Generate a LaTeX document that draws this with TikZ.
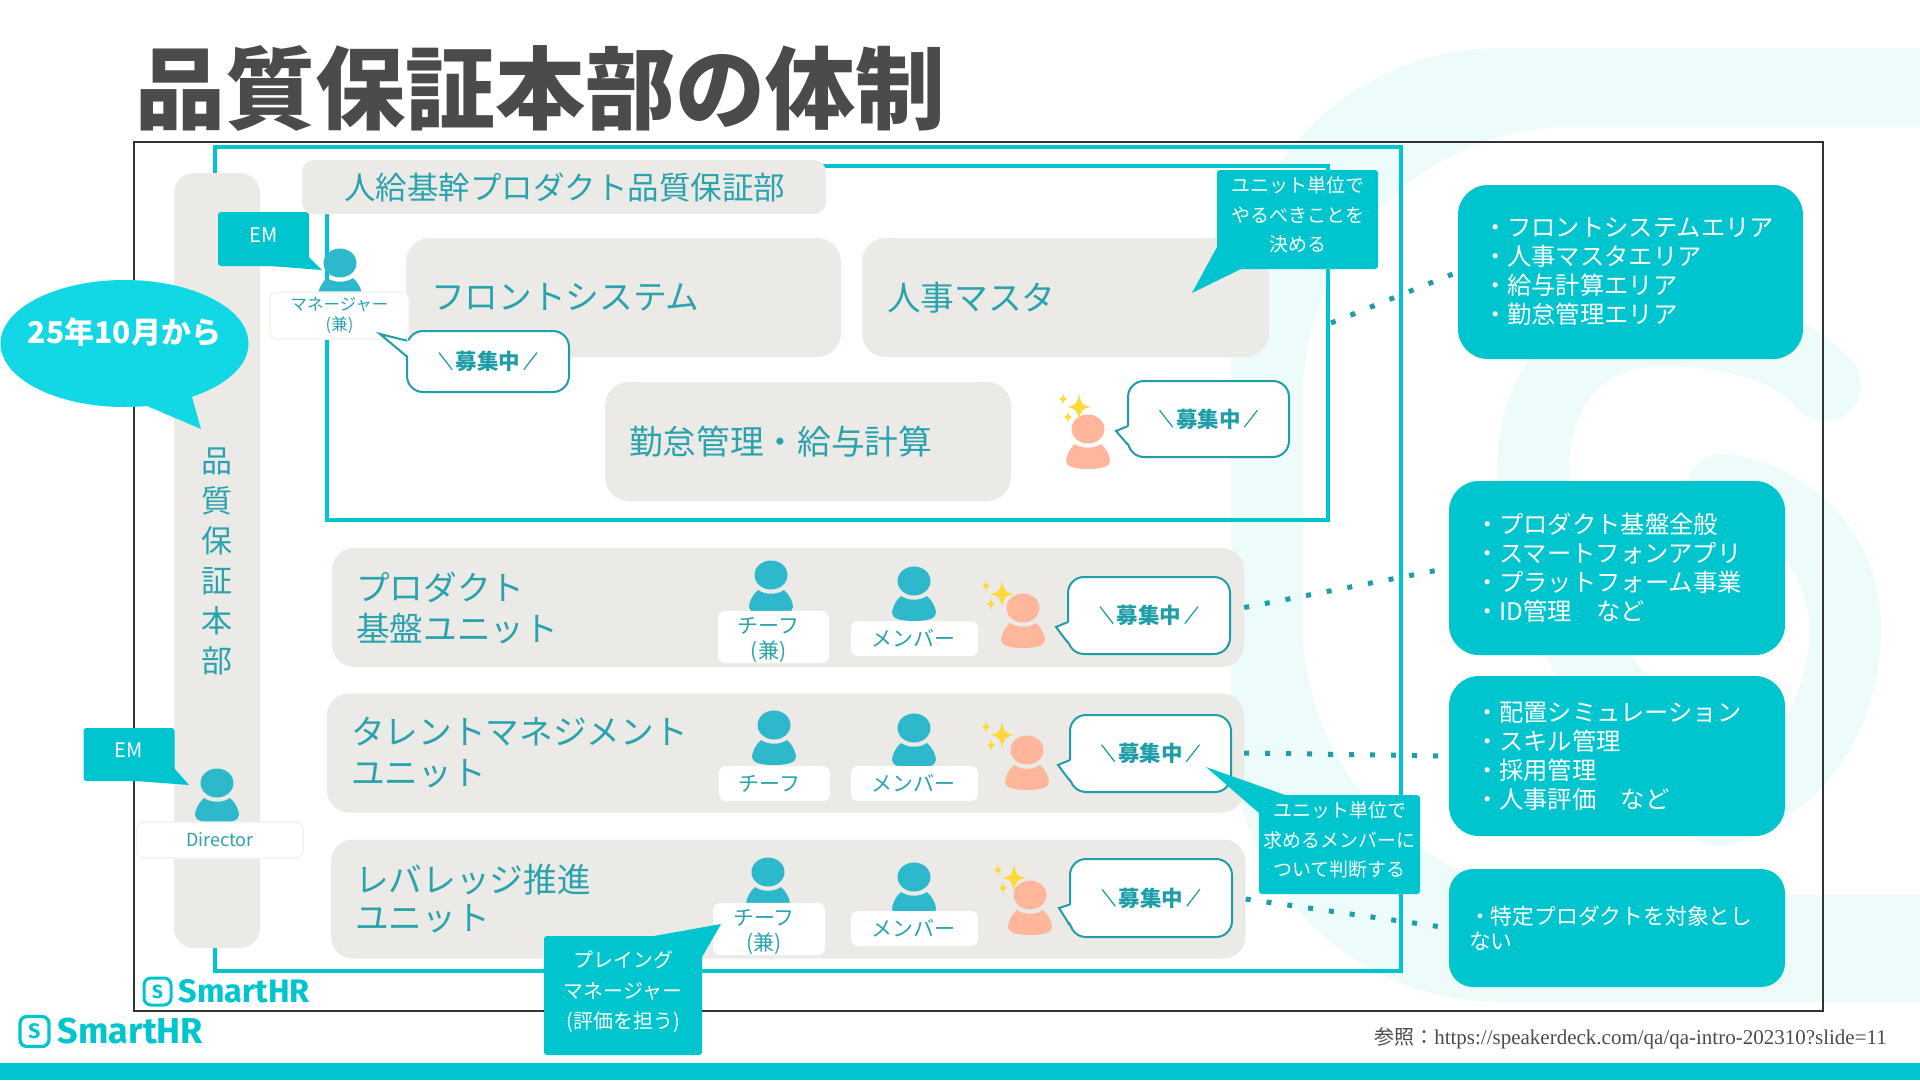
\documentclass[tikz,border=0pt]{standalone}
\usepackage{xcolor}
\usepackage{fontspec}
\usepackage{tikz}
\usetikzlibrary{shapes,positioning}
\setmainfont{Noto Sans CJK JP}
\newfontfamily\logofont{Fira Sans}
\newfontfamily\urlfont{Liberation Serif}
\definecolor{brand}{HTML}{00C4CE}
\definecolor{bubblecyan}{HTML}{12D8E6}
\definecolor{panelgray}{HTML}{EBEAE6}
\definecolor{inkteal}{HTML}{2AA3AE}
\definecolor{lineteal}{HTML}{1F9DA8}
\definecolor{headteal}{HTML}{2DB9CB}
\definecolor{hireorange}{HTML}{FFB69B}
\definecolor{starcolor}{HTML}{FFD83C}
\definecolor{markwash}{HTML}{EEFBFB}
\definecolor{titleink}{HTML}{4B4B4B}
% extra depth under a last line, to lift the text in its box
\newcommand{\liftup}[1]{\rule[-#1]{0pt}{0pt}}
\newcommand{\hiremark}[1]{\raisebox{1.5pt}{\scalebox{.66}[.85]{\addfontfeature{FakeBold=2}#1}}}
\newcommand{\hiretext}{\hiremark{＼}\hspace{3pt}募集中\hspace{3pt}\hiremark{／}}
\newcommand{\hiretail}[4]{%
  \fill[white] ([yshift=#3pt,xshift=3pt]#1.west) -- #2 -- ([yshift=#4pt,xshift=3pt]#1.west) -- cycle;
  \draw[hireline] ([yshift=#3pt,xshift=1pt]#1.west) -- #2 -- ([yshift=#4pt,xshift=1pt]#1.west);
}

\begin{document}
\begin{tikzpicture}[
        x=1pt, y=-1pt,
        panel/.style={fill=panelgray, rounded corners=24pt, minimum height=119pt, inner ysep=0pt,
                     inner xsep=24pt, align=left, text=inkteal, font=\fontsize{33.7}{41}\selectfont},
        tag/.style={fill=white, rounded corners=7pt, inner sep=0pt, align=center, text=inkteal,
                     font=\fontsize{21}{25.5}\selectfont},
        thintag/.style={tag, draw=panelgray!60, line width=1.5pt},
        hirebox/.style={draw=lineteal, line width=2pt, fill=white, rounded corners=16pt, inner sep=0pt,
                     text=lineteal, font=\fontsize{21.5}{26}\selectfont\bfseries},
        hireline/.style={draw=lineteal, line width=2pt, line join=miter},
        notebox/.style={fill=brand, rounded corners=3pt, inner sep=0pt, align=center, text=white,
                     font=\fontsize{19}{29.5}\selectfont},
        areabox/.style={fill=brand, rounded corners=30pt, inner ysep=0pt, align=left, text=white,
                     font=\fontsize{24.3}{29}\selectfont},
        frameline/.style={draw=brand, line width=4pt},
        dotlink/.style={draw=lineteal, line width=5pt, dash pattern=on 5pt off 16pt},
        logotext/.style={text=brand, inner sep=0pt, font=\logofont\bfseries},
        logomark/.style={draw=brand, rounded corners=7pt, inner sep=0pt, text=brand, font=\logofont\bfseries},
        pics/person/.style={code={
            \fill[#1] (0,0) ellipse (16.5 and 14.5);
            \fill[#1] (-13,15) .. controls (-6,20) and (6,20) .. (13,15)
                .. controls (18,19) and (22,27) .. (22,32)
                .. controls (22,38) and (12,40) .. (0,40)
                .. controls (-12,40) and (-22,38) .. (-22,32)
                .. controls (-22,27) and (-18,19) .. (-13,15) -- cycle;
        }},
        pics/sparkles/.style={code={
            \foreach \sx/\sy/\sw/\sh in {0/0/12/14, -16/-8/4/7, -11/10/4/7} {
                \fill[starcolor, shift={(\sx,\sy)}, xscale=\sw, yscale=\sh]
                    (0,-1) .. controls (0.12,-0.25) and (0.25,-0.12) .. (1,0)
                    .. controls (0.25,0.12) and (0.12,0.25) .. (0,1)
                    .. controls (-0.12,0.25) and (-0.25,0.12) .. (-1,0)
                    .. controls (-0.25,-0.12) and (-0.12,-0.25) .. (0,-1) -- cycle;
            }
        }},
    ]
        \useasboundingbox (0,0) rectangle (1920,1080);

        % Washed logo behind everything
        \begin{scope}
            \clip (0,0) rectangle (1920,1080);
            \fill[markwash, even odd rule, rounded corners=270pt] (1231,48) rectangle (2300,1002)
                (1303,127) rectangle (2200,895);
            \draw[markwash, line width=72pt, line cap=round] (1825,385) .. controls (1790,345) and (1730,330) .. (1660,330)
                .. controls (1580,330) and (1533,390) .. (1533,470)
                .. controls (1533,560) and (1560,640) .. (1640,720);
            \draw[markwash, line width=72pt, line cap=round] (1722,490) .. controls (1795,500) and (1845,555) .. (1845,630)
                .. controls (1845,720) and (1790,790) .. (1720,810);
        \end{scope}

        % Title, footer
        \node[anchor=west, inner sep=0pt, text=titleink, font=\fontsize{90}{100}\selectfont\bfseries] (title) at (135,88) {品質保証本部の体制};
        \fill[brand] (0,1063) rectangle (1920,1080);
        \node[anchor=east, inner sep=0pt, text=titleink, font=\fontsize{20}{24}\selectfont] (source) at (1887,1038) {参照：{\urlfont\fontsize{21}{24}\selectfont https://speakerdeck.com/qa/qa-intro-202310?slide=11}};

        % Frames
        \node[draw=black!80, line width=1.5pt, minimum width=1689pt, minimum height=869pt, inner sep=0pt] (frame) at (978.5,576.5) {};
        \node[frameline, minimum width=1186pt, minimum height=824pt, inner sep=0pt] (deptframe) at (808,559) {};
        \node[frameline, minimum width=1001pt, minimum height=354pt, inner sep=0pt] (coreframe) at (827.5,343) {};

        % Department bar
        \node[fill=panelgray, rounded corners=20pt, minimum width=86pt, minimum height=775pt, inner sep=0pt] (deptbar) at (217,560.5) {};
        \node[inner sep=0pt, align=center, text=inkteal, font=\fontsize{31}{40}\selectfont] (deptname) at (217,561) {品\\質\\保\\証\\本\\部};

        % Core product block
        \node[panel, rounded corners=12pt, minimum height=54pt, text width=440pt, inner xsep=42pt, font=\fontsize{31.5}{38}\selectfont] (corehead) at (564,187) {人給基幹プロダクト品質保証部};
        \node[panel, text width=385pt, inner xsep=25pt] (front) at (623.5,297.5) {フロントシステム};
        \node[panel, text width=357pt, inner xsep=25pt] (hrmaster) at (1065.5,297.5) {人事マスタ};
        \node[panel, text width=358pt, inner xsep=24pt] (attend) at (808,441.5) {勤怠管理・給与計算};

        % Units
        \node[panel, rounded corners=22pt, text width=864pt] (unitA) at (788,607.5) {プロダクト\\基盤ユニット};
        \node[panel, rounded corners=22pt, text width=869pt] (unitB) at (785.5,753) {タレントマネジメント\\ユニット};
        \node[panel, rounded corners=22pt, text width=866.5pt, font=\fontsize{33.7}{38}\selectfont] (unitC) at (788.25,899) {レバレッジ推進\\ユニット};

        % Right column
        \node[areabox, minimum height=174pt, text width=295pt, inner xsep=25pt] (areaA) at (1630.5,272) {・フロントシステムエリア\\・人事マスタエリア\\・給与計算エリア\\・勤怠管理エリア};
        \node[areabox, minimum height=174pt, text width=284pt, inner xsep=26pt] (areaB) at (1617,568) {・プロダクト基盤全般\\・スマートフォンアプリ\\・プラットフォーム事業\\・ID管理　など};
        \node[areabox, minimum height=160pt, text width=284pt, inner xsep=26pt] (areaC) at (1617,756) {・配置シミュレーション\\・スキル管理\\・採用管理\\・人事評価　など};
        \node[areabox, minimum height=118pt, text width=296pt, inner xsep=20pt, rounded corners=24pt, font=\fontsize{21.8}{25}\selectfont] (areaD) at (1617,928) {・特定プロダクトを対象とし\\ない};

        % Dotted links
        \coordinate (dotfront) at (1331,323);
        \draw[dotlink] (dotfront) -- (areaA.west);
        \draw[dotlink] (unitA.east) -- (areaB.west);
        \draw[dotlink] (unitB.east) -- (areaC.west);
        \draw[dotlink] (unitC.east) -- (areaD.west);

        % People
        \pic at (340,263) {person=headteal};
        \node[thintag, minimum width=139pt, minimum height=47pt, font=\fontsize{16.5}{20}\selectfont] (managertag) at (339.5,315.5) {マネージャー\\(兼)};
        \pic at (217,783) {person=headteal};
        \node[thintag, minimum width=166pt, minimum height=36pt, font=\fontsize{18}{22}\selectfont] (directortag) at (220,840) {Director};

        \pic at (771,575) {person=headteal};
        \pic at (914,581) {person=headteal};
        \node[tag, minimum width=111pt, minimum height=52pt] (chiefA) at (773.5,637) {\rule{0pt}{22.5pt}チーフ\rule{10pt}{0pt}\\(兼)\rule{10pt}{0pt}};
        \node[tag, minimum width=127pt, minimum height=35pt] (memberA) at (914.5,638.5) {メンバー\rule{3pt}{0pt}};

        \pic at (774,725) {person=headteal};
        \pic at (914,728) {person=headteal};
        \node[tag, minimum width=111pt, minimum height=35pt] (chiefB) at (774.5,783.5) {チーフ\rule{10pt}{0pt}};
        \node[tag, minimum width=127pt, minimum height=35pt] (memberB) at (914.5,783.5) {メンバー\rule{3pt}{0pt}};

        \pic at (768,872) {person=headteal};
        \pic at (914,877) {person=headteal};
        \node[tag, minimum width=112pt, minimum height=52pt] (chiefC) at (769,929) {\rule{0pt}{22.5pt}チーフ\rule{10pt}{0pt}\\(兼)\rule{10pt}{0pt}};
        \node[tag, minimum width=127pt, minimum height=35pt] (memberC) at (914.5,928.5) {メンバー\rule{3pt}{0pt}};

        % Open positions
        \pic at (1088,429) {person=hireorange};
        \pic at (1079,407) {sparkles};
        \pic at (1023,608) {person=hireorange};
        \pic at (1002,594) {sparkles};
        \pic at (1027,750) {person=hireorange};
        \pic at (1002,735) {sparkles};
        \pic at (1030,895) {person=hireorange};
        \pic at (1014,878) {sparkles};

        \node[hirebox, minimum width=162pt, minimum height=61pt] (hiremanager) at (488,361.5) {\hiretext};
        \node[hirebox, minimum width=161pt, minimum height=76pt] (hirecore) at (1208.5,419) {\hiretext};
        \node[hirebox, minimum width=162pt, minimum height=77pt] (hireA) at (1149,615.5) {\hiretext};
        \node[hirebox, minimum width=161pt, minimum height=77pt] (hireB) at (1150.5,753.5) {\hiretext};
        \node[hirebox, minimum width=162pt, minimum height=78pt] (hireC) at (1151,898) {\hiretext};
        \hiretail{hiremanager}{(380,334)}{20.8}{4.8}
        \hiretail{hirecore}{(1116,431)}{-7}{-26}
        \hiretail{hireA}{(1056,627)}{-6.5}{-27.5}
        \hiretail{hireB}{(1058,765)}{-6.5}{-27.5}
        \hiretail{hireC}{(1059,908)}{-6.5}{-27.5}

        % Notes
        \fill[brand] (309,257) -- (322,270) -- (270,266) -- cycle;
        \node[notebox, minimum width=91pt, minimum height=54pt, font=\fontsize{20}{24}\selectfont] (emcore) at (263.5,239) {EM\liftup{8pt}};
        \fill[brand] (174,768) -- (189,785) -- (136,781) -- cycle;
        \node[notebox, minimum width=91pt, minimum height=53pt, font=\fontsize{20}{24}\selectfont] (emdept) at (129,754.5) {EM\liftup{8pt}};

        \fill[brand] (1217,247) -- (1192,293) -- (1241,269) -- cycle;
        \node[notebox, minimum width=161pt, minimum height=99pt] (notecore) at (1297.5,219.5) {ユニット単位で\\やるべきことを\\決める\liftup{10pt}};
        \fill[brand] (1285,795) -- (1206,767) -- (1259,813) -- cycle;
        \node[notebox, minimum width=161pt, minimum height=99pt] (noteunit) at (1339.5,844.5) {ユニット単位で\\求めるメンバーに\\ついて判断する\liftup{11pt}};
        \fill[brand] (654,936) -- (721,924) -- (702,957) -- cycle;
        \node[notebox, minimum width=158pt, minimum height=119pt, font=\fontsize{20}{30.5}\selectfont] (noteplay) at (623,995.5) {プレイング\\マネージャー\\(評価を担う)\liftup{11pt}};

        % Start date bubble
        \fill[bubblecyan] (147,406) -- (201,429) -- (192,397) -- cycle;
        \node[ellipse, fill=bubblecyan, minimum width=248pt, minimum height=127pt, inner sep=0pt, text=white, font=\fontsize{30}{36}\selectfont\bfseries] (startdate) at (124.5,343.5) {\raisebox{0pt}[0pt][0pt]{\makebox[0pt]{25年10月から}}};

        % Logos
        \node[logomark, line width=3pt, minimum width=27pt, minimum height=27pt, font=\logofont\bfseries\fontsize{19}{22}\selectfont] (logomarkA) at (157.5,991.5) {S};
        \node[logotext, right=6pt of logomarkA, font=\logofont\bfseries\fontsize{32.5}{36}\selectfont] (logotextA) {SmartHR};
        \node[logomark, line width=3.3pt, minimum width=29pt, minimum height=30pt, font=\logofont\bfseries\fontsize{21}{24}\selectfont] (logomarkB) at (34.5,1031.5) {S};
        \node[logotext, right=7pt of logomarkB, font=\logofont\bfseries\fontsize{36}{40}\selectfont] (logotextB) {SmartHR};
    \end{tikzpicture}
\end{document}
